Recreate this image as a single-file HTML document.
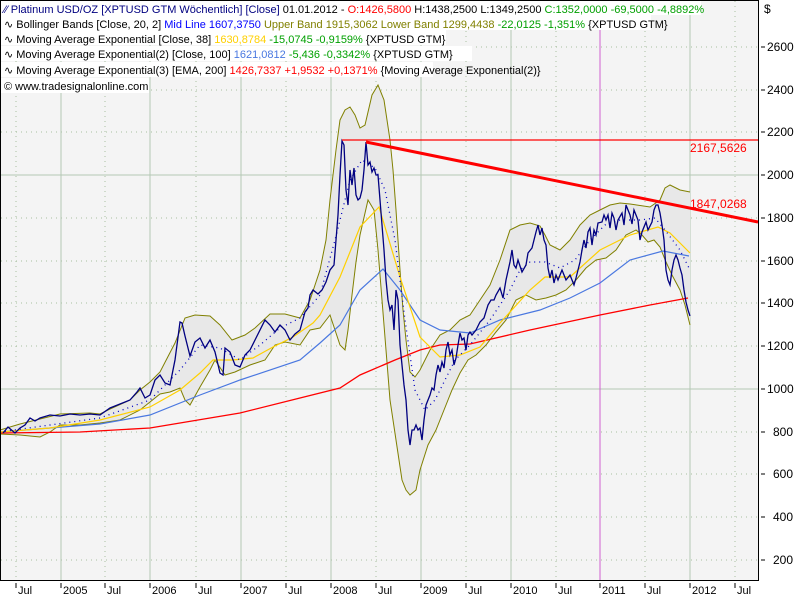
<!DOCTYPE html>
<html><head><meta charset="utf-8"><style>
body{margin:0;background:#fff;}
svg{display:block;font-family:"Liberation Sans",sans-serif;}
</style></head><body>
<svg width="800" height="600" viewBox="0 0 800 600" xmlns="http://www.w3.org/2000/svg">
<rect x="0" y="0" width="800" height="600" fill="#fff"/>
<rect x="1" y="1" width="757" height="579" fill="#f4f4f4"/>
<g stroke="#a8c0a0" stroke-width="1" stroke-dasharray="1,4">
<line x1="1" y1="47" x2="758" y2="47"/><line x1="1" y1="90" x2="758" y2="90"/><line x1="1" y1="132" x2="758" y2="132"/>
<line x1="1" y1="218" x2="758" y2="218"/><line x1="1" y1="261" x2="758" y2="261"/><line x1="1" y1="303" x2="758" y2="303"/>
<line x1="1" y1="346" x2="758" y2="346"/><line x1="1" y1="432" x2="758" y2="432"/><line x1="1" y1="474" x2="758" y2="474"/>
<line x1="1" y1="517" x2="758" y2="517"/><line x1="1" y1="560" x2="758" y2="560"/>
<line x1="16" y1="1" x2="16" y2="580"/><line x1="105" y1="1" x2="105" y2="580"/><line x1="196" y1="1" x2="196" y2="580"/>
<line x1="286" y1="1" x2="286" y2="580"/><line x1="376" y1="1" x2="376" y2="580"/><line x1="466" y1="1" x2="466" y2="580"/>
<line x1="556" y1="1" x2="556" y2="580"/><line x1="645" y1="1" x2="645" y2="580"/><line x1="735" y1="1" x2="735" y2="580"/>
</g>
<g stroke="#b4c8b4" stroke-width="1">
<line x1="1" y1="175" x2="758" y2="175"/><line x1="1" y1="389" x2="758" y2="389"/>
<line x1="61" y1="1" x2="61" y2="580"/><line x1="150" y1="1" x2="150" y2="580"/><line x1="241" y1="1" x2="241" y2="580"/>
<line x1="331" y1="1" x2="331" y2="580"/><line x1="421" y1="1" x2="421" y2="580"/><line x1="511" y1="1" x2="511" y2="580"/>
<line x1="690" y1="1" x2="690" y2="580"/>
</g>
<line x1="600" y1="1" x2="600" y2="580" stroke="#d060d0" stroke-width="1"/>
<!-- band fill -->
<polygon fill="#e8e8e8" points="0,430 20,424 40,419 60,414 90,413 100,414 110,409 130,400 140,390 150,382 160,372 175,343 185,318 195,315 210,316 220,325 232,340 245,335 255,328 270,314 285,314 300,318 310,300 320,270 326,240 330,200 336,150 340,120 345,110 350,107 355,115 360,128 365,125 372,95 378,85 384,100 390,140 393,170 396,210 400,270 403,310 406,340 410,372 415,377 420,370 430,350 440,335 450,330 460,320 470,315 480,300 490,285 500,260 510,230 520,225 530,223 540,226 545,235 550,245 560,250 570,240 580,225 590,215 600,210 610,205 620,203 630,204 650,207 660,200 665,188 670,185 680,190 690,192 690,325 685,305 680,290 672,275 666,262 660,247 654,240 648,242 642,235 636,230 626,235 616,250 606,258 596,260 586,268 576,280 566,290 556,295 546,298 536,300 526,295 516,300 506,320 496,332 486,345 476,355 468,360 460,373 452,390 444,410 436,430 428,445 420,470 416,490 410,495 406,490 402,480 396,440 390,400 386,350 382,300 378,250 374,210 368,200 360,235 356,262 352,295 348,330 345,350 340,345 335,330 330,315 320,328 310,330 300,345 285,342 275,345 265,360 250,365 235,372 225,375 215,360 210,370 200,387 190,405 185,400 180,388 170,392 160,394 150,402 140,410 120,420 100,423 80,425 60,425 50,432 40,437 20,435 0,434"/>
<g fill="none" stroke="#808000" stroke-width="1">
<polyline points="0,430 20,424 40,419 60,414 90,413 100,414 110,409 130,400 140,390 150,382 160,372 175,343 185,318 195,315 210,316 220,325 232,340 245,335 255,328 270,314 285,314 300,318 310,300 320,270 326,240 330,200 336,150 340,120 345,110 350,107 355,115 360,128 365,125 372,95 378,85 384,100 390,140 393,170 396,210 400,270 403,310 406,340 410,372 415,377 420,370 430,350 440,335 450,330 460,320 470,315 480,300 490,285 500,260 510,230 520,225 530,223 540,226 545,235 550,245 560,250 570,240 580,225 590,215 600,210 610,205 620,203 630,204 650,207 660,200 665,188 670,185 680,190 690,192"/>
<polyline points="0,434 20,435 40,437 50,432 60,425 80,425 100,423 120,420 140,410 150,402 160,394 170,392 180,388 185,400 190,405 200,387 210,370 215,360 225,375 235,372 250,365 265,360 275,345 285,342 300,345 310,330 320,328 330,315 335,330 340,345 345,350 348,330 352,295 356,262 360,235 368,200 374,210 378,250 382,300 386,350 390,400 396,440 402,480 406,490 410,495 416,490 420,470 428,445 436,430 444,410 452,390 460,373 468,360 476,355 486,345 496,332 506,320 516,300 526,295 536,300 546,298 556,295 566,290 576,280 586,268 596,260 606,258 616,250 626,235 636,230 642,235 648,242 654,240 660,247 666,262 672,275 680,290 685,305 690,325"/>
</g>
<polyline fill="none" stroke="#ff0000" stroke-width="1.3" points="0,433 80,432 150,428 240,413 300,398 340,388 360,375 395,360 420,350 440,345 470,344 530,330 600,315 650,305 688,298"/>
<polyline fill="none" stroke="#4a78e0" stroke-width="1.2" points="0,432 100,424 150,415 200,395 240,380 300,360 320,343 340,325 360,290 383,269 400,290 420,320 440,330 470,333 500,320 540,310 570,298 600,283 630,260 663,251 689,256"/>
<polyline fill="none" stroke="#ffd000" stroke-width="1.2" points="0,432 50,428 100,420 150,407 180,390 200,373 213,360 233,360 253,358 273,347 293,337 313,323 320,315 340,277 360,227 379,207 400,277 420,337 440,357 460,355 480,347 500,323 530,290 545,277 570,277 600,250 630,235 658,227 670,233 690,253"/>
<polyline fill="none" stroke="#0000c0" stroke-width="1.3" stroke-dasharray="1,4" points="0,432 100,418 150,400 180,370 200,345 220,348 240,360 260,345 280,328 300,318 320,295 335,240 350,180 362,160 375,168 385,190 395,240 405,320 415,390 425,410 435,400 445,380 455,360 470,345 490,320 510,290 520,270 530,262 545,262 560,268 575,260 590,240 605,225 620,220 640,220 655,218 665,230 680,250 690,270"/>
<polyline fill="none" stroke="#000080" stroke-width="1.3" points="3,433 8,427 15,433 20,428 25,425 30,418 35,421 40,418 50,415 60,416 70,414 80,415 90,414 100,415 110,408 115,406 120,404 130,400 137,392 140,388 145,398 150,395 155,380 160,375 165,383 170,385 175,360 180,322 182,323 185,336 190,356 195,342 200,338 205,348 210,340 215,352 220,373 223,375 225,348 230,352 235,365 240,367 245,355 250,350 255,340 260,330 265,320 270,325 275,332 280,325 285,330 290,340 295,334 300,330 305,312 308,308 310,295 313,290 318,294 322,290 326,282 330,270 334,265 336,240 338,215 340,175 342,141 344,145 346,190 348,205 350,170 352,185 354,168 356,195 358,200 360,198 362,190 364,170 366,142 368,165 370,162 372,172 374,168 376,175 378,175 380,200 382,225 384,250 386,280 388,300 390,310 392,305 394,330 396,290 398,300 400,345 402,365 404,385 406,400 408,430 410,445 412,430 414,430 416,425 418,430 420,428 422,440 424,420 426,405 428,400 430,395 432,388 434,390 436,375 438,365 440,372 442,362 444,368 446,350 448,342 450,355 452,350 454,365 456,358 458,345 460,333 462,340 464,338 466,350 468,335 470,332 472,335 476,330 480,322 484,318 488,305 491,300 494,300 496,295 500,288 503,298 506,280 510,262 512,250 514,265 516,268 518,260 522,272 526,265 528,253 532,248 536,232 538,225 540,235 542,228 544,240 546,245 548,268 550,278 552,270 554,283 556,275 558,280 562,270 566,280 570,275 574,285 576,278 580,262 582,250 584,240 586,248 588,232 590,228 592,245 594,230 596,235 598,223 602,222 604,215 606,220 608,215 610,228 612,213 614,218 616,230 618,220 622,213 624,225 626,205 630,215 632,224 634,210 638,220 640,240 642,232 646,222 648,230 652,222 654,210 656,205 658,205 660,213 662,225 664,240 666,270 668,280 670,285 672,270 674,260 676,255 678,260 680,268 682,275 684,290 686,302 688,310 690,316"/>
<line x1="342" y1="140" x2="758" y2="140" stroke="#ff0000" stroke-width="1.3"/>
<line x1="366" y1="142" x2="758" y2="222" stroke="#ff0000" stroke-width="3"/>
<g font-size="12" fill="#ff0000"><text x="690" y="152">2167,5626</text><text x="690" y="208">1847,0268</text></g>
<rect x="0.5" y="0.5" width="758" height="580" fill="none" stroke="#000" stroke-width="1"/>
<!-- legend -->
<g font-size="11">
<rect x="1" y="1" width="700" height="14" fill="#fff"/>
<rect x="1" y="15" width="650" height="15" fill="#fff"/>
<rect x="1" y="30" width="445" height="15" fill="#fff"/>
<rect x="1" y="46" width="471" height="15" fill="#fff"/>
<rect x="1" y="62" width="432" height="15" fill="#fff"/>
<rect x="1" y="78" width="148" height="15" fill="#fff"/>
<text x="4" y="13"><tspan fill="#000080">⁄⁄ Platinum USD/OZ [XPTUSD GTM  Wöchentlich] </tspan><tspan fill="#000080">[Close] </tspan><tspan fill="#000">01.01.2012 - </tspan><tspan fill="#ff0000">O:1426,5800 </tspan><tspan fill="#000">H:1438,2500 L:1349,2500 </tspan><tspan fill="#00a000">C:1352,0000 -69,5000 -4,8892%</tspan></text>
<text x="4" y="28"><tspan fill="#000">∿ Bollinger Bands [Close, 20, 2] </tspan><tspan fill="#0000ff">Mid Line 1607,3750 </tspan><tspan fill="#808000">Upper Band 1915,3062 Lower Band 1299,4438 </tspan><tspan fill="#00a000">-22,0125 -1,351% </tspan><tspan fill="#000">{XPTUSD GTM}</tspan></text>
<text x="4" y="43"><tspan fill="#000">∿ Moving Average Exponential [Close, 38] </tspan><tspan fill="#ffd000">1630,8784 </tspan><tspan fill="#00a000">-15,0745 -0,9159% </tspan><tspan fill="#000">{XPTUSD GTM}</tspan></text>
<text x="4" y="58"><tspan fill="#000">∿ Moving Average Exponential(2) [Close, 100] </tspan><tspan fill="#4a78e0">1621,0812 </tspan><tspan fill="#00a000">-5,436 -0,3342% </tspan><tspan fill="#000">{XPTUSD GTM}</tspan></text>
<text x="4" y="74"><tspan fill="#000">∿ Moving Average Exponential(3) [EMA, 200] </tspan><tspan fill="#ff0000">1426,7337 +1,9532 +0,1371% </tspan><tspan fill="#000">{Moving Average Exponential(2)}</tspan></text>
<text x="4" y="90" fill="#000">© www.tradesignalonline.com</text>
</g>
<!-- right axis -->
<g font-size="12" fill="#000">
<text x="764" y="13">$</text>
<g stroke="#000"><line x1="761" y1="47" x2="765" y2="47"/><line x1="761" y1="90" x2="765" y2="90"/><line x1="761" y1="132" x2="765" y2="132"/><line x1="761" y1="175" x2="765" y2="175"/><line x1="761" y1="218" x2="765" y2="218"/><line x1="761" y1="261" x2="765" y2="261"/><line x1="761" y1="303" x2="765" y2="303"/><line x1="761" y1="346" x2="765" y2="346"/><line x1="761" y1="389" x2="765" y2="389"/><line x1="761" y1="432" x2="765" y2="432"/><line x1="761" y1="474" x2="765" y2="474"/><line x1="761" y1="517" x2="765" y2="517"/><line x1="761" y1="560" x2="765" y2="560"/></g>
<text x="767" y="51">2600</text><text x="767" y="94">2400</text><text x="767" y="136">2200</text><text x="767" y="179">2000</text><text x="767" y="222">1800</text><text x="767" y="265">1600</text><text x="767" y="307">1400</text><text x="767" y="350">1200</text><text x="767" y="393">1000</text><text x="773" y="436">800</text><text x="773" y="478">600</text><text x="773" y="521">400</text><text x="773" y="564">200</text>
</g>
<!-- bottom axis -->
<g stroke="#000"><line x1="16" y1="583" x2="16" y2="588"/><line x1="61" y1="583" x2="61" y2="588"/><line x1="105" y1="583" x2="105" y2="588"/><line x1="150" y1="583" x2="150" y2="588"/><line x1="196" y1="583" x2="196" y2="588"/><line x1="241" y1="583" x2="241" y2="588"/><line x1="286" y1="583" x2="286" y2="588"/><line x1="331" y1="583" x2="331" y2="588"/><line x1="376" y1="583" x2="376" y2="588"/><line x1="421" y1="583" x2="421" y2="588"/><line x1="466" y1="583" x2="466" y2="588"/><line x1="511" y1="583" x2="511" y2="588"/><line x1="556" y1="583" x2="556" y2="588"/><line x1="600" y1="583" x2="600" y2="588"/><line x1="645" y1="583" x2="645" y2="588"/><line x1="690" y1="583" x2="690" y2="588"/><line x1="735" y1="583" x2="735" y2="588"/></g>
<g font-size="11" fill="#000">
<text x="18" y="594">Jul</text><text x="63" y="594">2005</text><text x="107" y="594">Jul</text><text x="152" y="594">2006</text><text x="198" y="594">Jul</text><text x="243" y="594">2007</text><text x="288" y="594">Jul</text><text x="333" y="594">2008</text><text x="378" y="594">Jul</text><text x="423" y="594">2009</text><text x="468" y="594">Jul</text><text x="513" y="594">2010</text><text x="558" y="594">Jul</text><text x="602" y="594">2011</text><text x="647" y="594">Jul</text><text x="692" y="594">2012</text><text x="737" y="594">Jul</text>
</g>
</svg>
</body></html>
